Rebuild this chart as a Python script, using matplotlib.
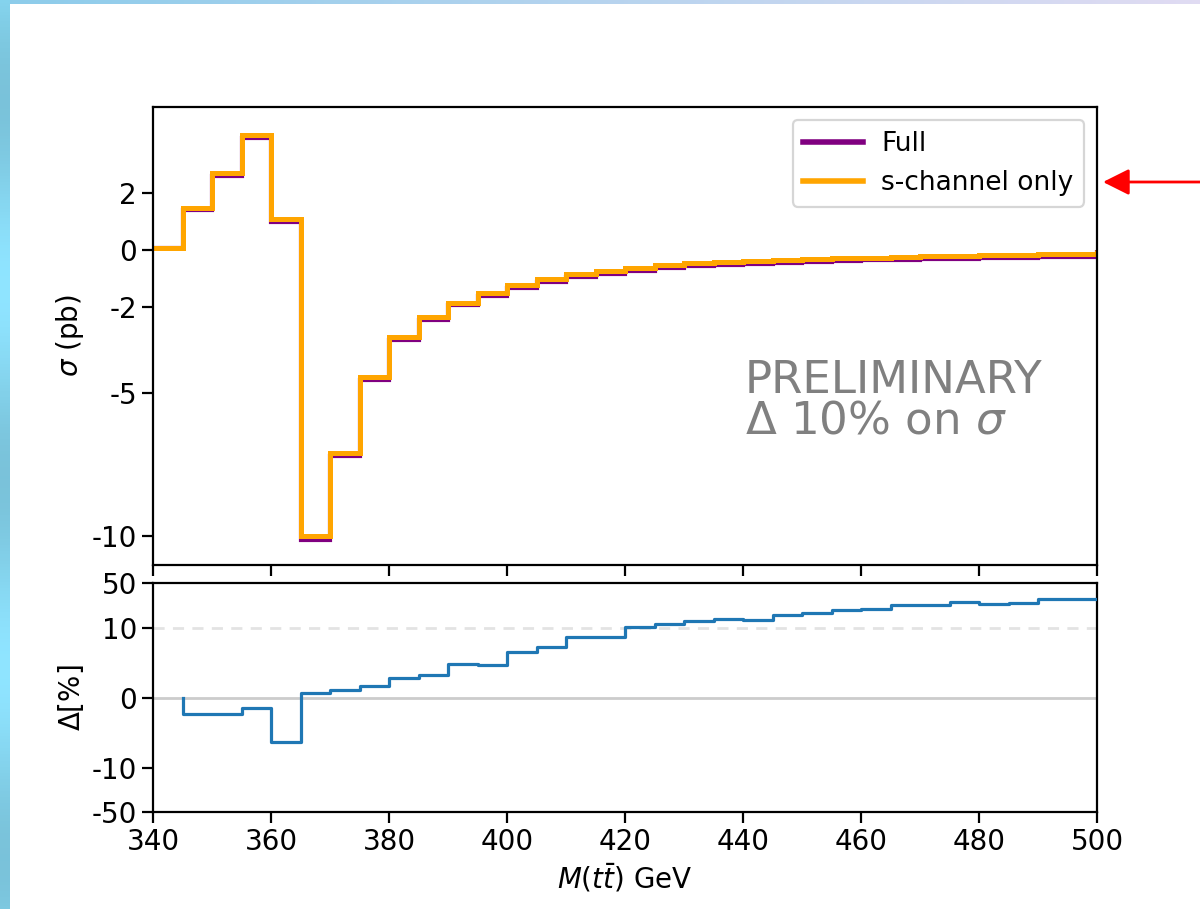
import numpy as np
import matplotlib
matplotlib.use("Agg")
import matplotlib.pyplot as plt
from matplotlib.patches import Rectangle, FancyArrowPatch

# Binning in M(tt~), 5 GeV bins from 340 to 500 GeV
bin_edges = np.arange(340, 505, 5)

# Cross section per bin (pb)
sigma_schannel = [0.07, 1.48, 2.68, 4.01, 1.07, -10.0, -7.09, -4.44, -3.05, -2.33,
                  -1.83, -1.49, -1.23, -1.01, -0.85, -0.72, -0.62, -0.53, -0.46, -0.41,
                  -0.37, -0.34, -0.31, -0.28, -0.26, -0.24, -0.22, -0.20, -0.18, -0.17,
                  -0.15, -0.14]
sigma_full = [0.07, 1.39, 2.59, 3.91, 0.97, -10.12, -7.19, -4.54, -3.15, -2.43,
              -1.93, -1.59, -1.33, -1.11, -0.95, -0.82, -0.72, -0.63, -0.56, -0.51,
              -0.47, -0.44, -0.41, -0.38, -0.36, -0.34, -0.32, -0.30, -0.28, -0.27,
              -0.25, -0.24]

# Relative difference (%) per bin, starting from the 345 GeV bin
delta_edges = bin_edges[1:]
delta_pct = [-2.37, -2.28, -1.52, -6.26, 0.66, 1.18, 1.75, 2.84, 3.31, 4.83,
             4.64, 6.54, 7.2, 8.62, 8.62, 10.1, 11.4, 12.9, 13.8, 13.3,
             15.9, 17.1, 19.0, 19.5, 22.5, 22.8, 25.7, 23.3, 24.6, 28.5, 28.0]

x_ticks = [340, 360, 380, 400, 420, 440, 460, 480, 500]
top_ticks = [2, 0, -2, -5, -10]
top_tick_labels = ["2", "0", "-2", "-5", "-10"]
bottom_ticks = [50, 10, 0, -10, -50]
bottom_tick_labels = ["50", "10", "0", "-10", "-50"]

W, H = 1200, 909
fig = plt.figure(figsize=(W / 100, H / 100), dpi=100)

# Slide backdrop: soft blue band on the left and top, white card
bg = fig.add_axes([0, 0, 1, 1], zorder=-10)
bg.set_axis_off()
gx = np.linspace(0, 1, 300)
grad = np.zeros((2, 300, 3))
left_c = np.array([0.55, 0.80, 0.92])
right_c = np.array([0.88, 0.86, 0.95])
for i, t in enumerate(gx):
    grad[:, i, :] = left_c * (1 - t) + right_c * t
bg.imshow(grad, extent=[0, 1, 0, 1], aspect="auto", transform=bg.transAxes)
side = np.zeros((300, 2, 3))
for j in range(300):
    side[j, :, :] = np.array([0.52, 0.83, 0.93]) * (1 - 0.08 * np.sin(j / 20.0))
side = np.clip(side, 0, 1)
bg.imshow(side, extent=[0, 10 / W, 0, 1], aspect="auto", transform=bg.transAxes)
bg.add_patch(Rectangle((10 / W, 0), 1 - 10 / W, 1 - 4 / H, transform=bg.transAxes,
                       facecolor="white", edgecolor="none"))
bg.set_xlim(0, 1)
bg.set_ylim(0, 1)

fs_tick = 20
fs_label = 20
fs_leg = 19
lw_spine = 1.6

ax1 = fig.add_axes([153 / W, 1 - 565 / H, 944 / W, 458 / H])
ax2 = fig.add_axes([153 / W, 1 - 812.3 / H, 944 / W, 229 / H], sharex=ax1)

for ax in (ax1, ax2):
    for s in ax.spines.values():
        s.set_linewidth(lw_spine)
    ax.tick_params(labelsize=fs_tick, width=lw_spine, length=8)

# Top panel: cross sections
ax1.stairs(sigma_full, bin_edges, color="purple", linewidth=3.0, label="Full")
ax1.stairs(sigma_schannel, bin_edges, color="orange", linewidth=3.6, label="s-channel only")
ax1.set_xlim(340, 500)
ax1.set_ylim(-11, 5)
ax1.set_yticks(top_ticks)
ax1.set_yticklabels(top_tick_labels)
ax1.tick_params(axis="x", labelbottom=False)
ax1.set_ylabel(r"$\sigma$ (pb)", fontsize=fs_label)
leg = ax1.legend(fontsize=fs_leg, loc="upper right", handlelength=2.25,
                 handletextpad=0.7)
for h in leg.get_lines():
    h.set_linewidth(4.0)
leg.get_frame().set_linewidth(1.6)

ax1.text(0.627, 0.375, "PRELIMINARY", transform=ax1.transAxes, fontsize=32.5,
         color="gray", va="baseline", ha="left")
ax1.text(0.627, 0.288, r"$\Delta$ 10% on $\sigma$", transform=ax1.transAxes,
         fontsize=32.5, color="gray", va="baseline", ha="left")

# Bottom panel: relative difference
ax2.set_yscale("symlog", linthresh=10, linscale=1)
ax2.axhline(0, color="#cccccc", linewidth=2.0, zorder=1)
ax2.axhline(10, color="#e3e3e3", linewidth=2.0, linestyle=(0, (4, 3)), zorder=1)
step_x = np.concatenate([[delta_edges[0]], delta_edges])
step_y = np.concatenate([[0.0], delta_pct, [delta_pct[-1]]])
ax2.step(step_x, step_y, where="post", color="tab:blue", linewidth=2.3, zorder=3)
ax2.set_ylim(-50, 50)
ax2.set_yticks(bottom_ticks)
ax2.set_yticklabels(bottom_tick_labels)
ax2.yaxis.set_minor_locator(matplotlib.ticker.NullLocator())
ax2.set_xticks(x_ticks)
ax2.set_xlim(340, 500)
ax2.set_ylabel(r"$\Delta$[%]", fontsize=fs_label)
ax2.set_xlabel(r"$M(t\bar{t})$ GeV", fontsize=fs_label)

fig.align_ylabels([ax1, ax2])

# Red pointer toward the legend
arrow = FancyArrowPatch((1.0, 1 - 182 / H), (1103 / W, 1 - 182 / H),
                        transform=fig.transFigure,
                        arrowstyle="-|>,head_length=1.0,head_width=0.5",
                        mutation_scale=16, color="red", linewidth=2.0,
                        shrinkA=0, shrinkB=0)
fig.patches.append(arrow)

fig.savefig("out.png", dpi=100)
